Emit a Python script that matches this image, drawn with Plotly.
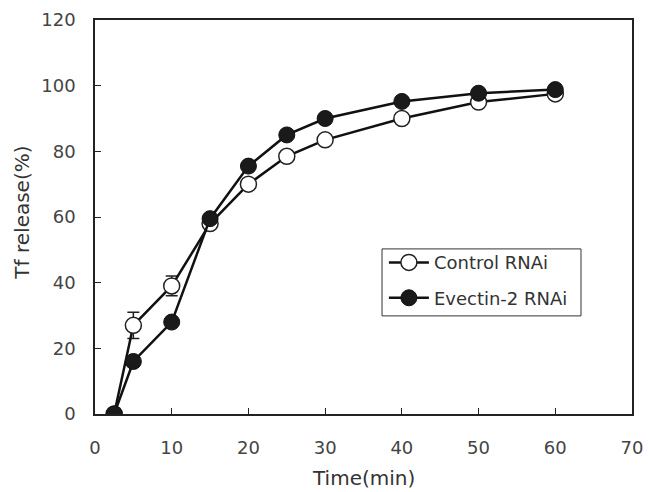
import plotly.graph_objects as go

time_min = [2.5, 5, 10, 15, 20, 25, 30, 40, 50, 60]
control = [0, 27, 39, 58, 70, 78.5, 83.5, 90, 95, 97.5]
control_err = [0, 4, 3, 1, 1, 1, 1, 1, 1, 1]
evectin = [0, 16, 28, 59.5, 75.5, 85, 90, 95.2, 97.7, 98.8]
evectin_err = [0, 1, 1, 1, 1, 1, 1, 1, 1, 1]
x_ticks = [0, 10, 20, 30, 40, 50, 60, 70]
y_ticks = [0, 20, 40, 60, 80, 100, 120]

FONT = "DejaVu Sans"
fig = go.Figure()
fig.add_trace(go.Scatter(
    x=time_min, y=control, name="Control RNAi", mode="lines+markers",
    legendgroup="a",
    line=dict(color="#111", width=2.5),
    marker=dict(size=16, color="white", line=dict(color="#222", width=1.5)),
    error_y=dict(type="data", array=control_err, color="#222", thickness=1.5, width=6),
))
fig.add_trace(go.Scatter(
    x=time_min, y=evectin, name="Evectin-2 RNAi", mode="lines+markers",
    legendgroup="b",
    line=dict(color="#111", width=2.5),
    marker=dict(size=16, color="#1a1a1a", line=dict(color="#111", width=1)),
    error_y=dict(type="data", array=evectin_err, color="#222", thickness=1.5, width=6),
))
fig.add_shape(type="rect", xref="paper", yref="paper",
              x0=0.5345, x1=0.905, y0=0.249, y1=0.419,
              line=dict(color="#333", width=1), fillcolor="rgba(0,0,0,0)", layer="above")
fig.add_annotation(text="Time(min)", xref="paper", yref="paper", x=0.5, y=-0.162,
                   xanchor="center", yanchor="middle", showarrow=False,
                   font=dict(family=FONT, size=20, color="#333"))
fig.add_annotation(text="Tf release(%)", xref="paper", yref="paper", x=-0.136, y=0.511,
                   xanchor="center", yanchor="middle", showarrow=False, textangle=-90,
                   font=dict(family=FONT, size=20, color="#333"))
fig.update_layout(
    width=649, height=492,
    margin=dict(l=95, r=17, t=20, b=78),
    paper_bgcolor="white", plot_bgcolor="white",
    font=dict(family=FONT, color="#444", size=18),
    showlegend=True,
    legend=dict(x=0.538, y=0.431, xanchor="left", yanchor="top",
                borderwidth=0, bgcolor="rgba(0,0,0,0)",
                font=dict(size=18, color="#333"), tracegroupgap=9,
                itemwidth=40),
    xaxis=dict(range=[0, 70], tickvals=x_ticks, ticks="inside", ticklen=6,
               tickcolor="#222", showline=True, linecolor="#222", linewidth=1.5,
               mirror=True, showgrid=False, zeroline=False, automargin=False,
               ticklabelstandoff=17,
               tickfont=dict(size=18, color="#444")),
    yaxis=dict(range=[0, 120], tickvals=y_ticks, ticks="inside", ticklen=6,
               tickcolor="#222", showline=True, linecolor="#222", linewidth=1.5,
               mirror=True, showgrid=False, zeroline=False, automargin=False,
               ticklabelstandoff=14,
               tickfont=dict(size=18, color="#444")),
)
fig.write_html("out.html", post_script="document.body.style.margin='0';",
               config={"displayModeBar": False})
